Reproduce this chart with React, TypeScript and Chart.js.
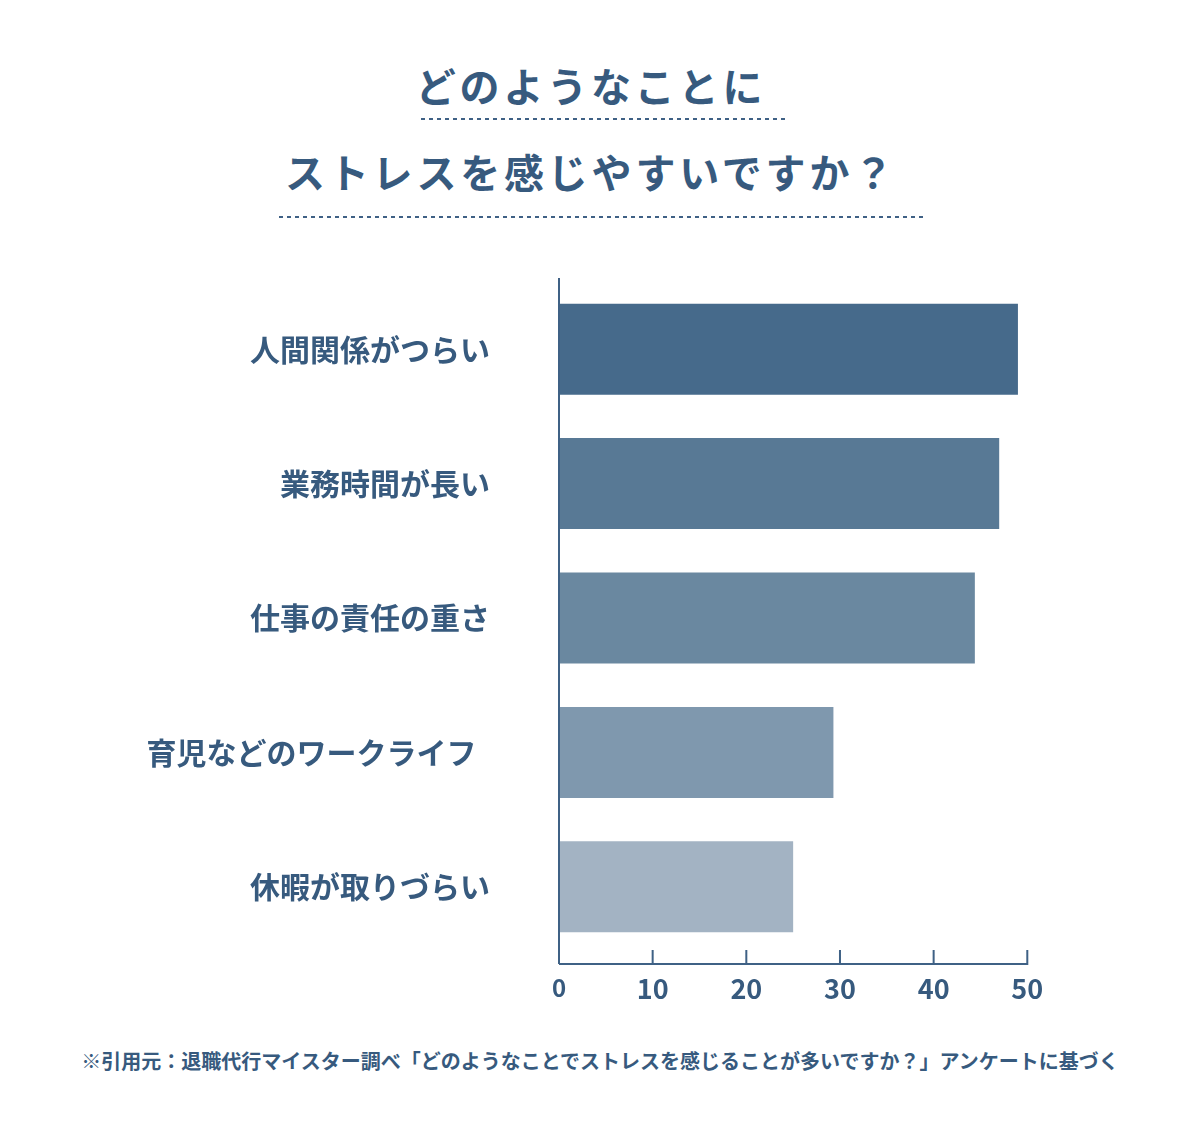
import React, { useEffect, useRef } from "react";
import { Chart, registerables } from "chart.js";

Chart.register(...registerables);

const categories = [
  "人間関係がつらい",
  "業務時間が長い",
  "仕事の責任の重さ",
  "育児などのワークライフ  ",
  "休暇が取りづらい",
];
const values = [49.0, 47.0, 44.4, 29.3, 25.0];
const barColors = ["#466a8b", "#587995", "#6a88a0", "#7f98ae", "#a3b3c3"];
const xTickValues = [0, 10, 20, 30, 40, 50];
const titleLine1 = "どのようなことに";
const titleLine2 = "ストレスを感じやすいですか？";
const footnote =
  "※引用元：退職代行マイスター調べ「どのようなことでストレスを感じることが多いですか？」アンケートに基づく";

const TEXT = "#375a7e";
const AXIS = "#3f6185";
const FONT = "'Noto Sans CJK JP', 'Noto Sans', sans-serif";

const axisPlugin = {
  id: "customAxis",
  afterDraw(chart: any) {
    const { ctx, chartArea, scales } = chart;
    const xs = scales.x;
    const x0 = xs.getPixelForValue(0);
    const x1 = xs.getPixelForValue(50);
    const yAxis = chartArea.bottom + 10;
    ctx.save();
    ctx.strokeStyle = AXIS;
    ctx.lineWidth = 2;
    ctx.beginPath();
    ctx.moveTo(x0, chartArea.top - 4);
    ctx.lineTo(x0, yAxis);
    ctx.moveTo(x0, yAxis);
    ctx.lineTo(x1 + 1, yAxis);
    xs.ticks.forEach((t: any) => {
      const px = xs.getPixelForValue(t.value);
      ctx.moveTo(px, yAxis);
      ctx.lineTo(px, yAxis - 14);
    });
    ctx.stroke();
    ctx.restore();
  },
};

function BarChart() {
  const ref = useRef<HTMLCanvasElement>(null);
  useEffect(() => {
    if (!ref.current) return;
    const chart = new Chart(ref.current, {
      type: "bar",
      data: {
        labels: categories,
        datasets: [
          {
            data: values,
            backgroundColor: barColors,
            borderWidth: 0,
            barPercentage: 1,
            categoryPercentage: 0.677,
          },
        ],
      },
      options: {
        indexAxis: "y",
        animation: false,
        responsive: true,
        maintainAspectRatio: false,
        layout: { padding: { left: 0, right: 164.7, top: 32, bottom: 0 } },
        plugins: {
          legend: { display: false },
          tooltip: { enabled: false },
          title: { display: false },
        },
        scales: {
          x: {
            type: "linear",
            min: 0,
            max: 50,
            afterBuildTicks: (s: any) => {
              s.ticks = xTickValues.map((v) => ({ value: v }));
            },
            afterFit: (s: any) => {
              s.height = 76;
              s.paddingLeft = 0;
              s.paddingRight = 0;
            },
            grid: { display: false, drawTicks: false },
            border: { display: false },
            ticks: {
              padding: 19,
              color: TEXT,
              font: (c: any) => ({
                family: FONT,
                size: c.tick && c.tick.value === 0 ? 24 : 27,
                weight: "bold",
              }),
            },
          },
          y: {
            afterFit: (s: any) => {
              s.width = 551;
              s.paddingTop = 0;
              s.paddingBottom = 0;
            },
            grid: { display: false, drawTicks: false },
            border: { display: false },
            ticks: {
              padding: 69,
              color: TEXT,
              font: { family: FONT, size: 30, weight: "bold" },
            },
          },
        },
      },
      plugins: [axisPlugin],
    });
    return () => chart.destroy();
  }, []);
  return (
    <div style={{ position: "absolute", left: 0, top: 242, width: 1184, height: 780 }}>
      <canvas ref={ref} />
    </div>
  );
}

const dotted = (left: number, top: number, width: number) => (
  <div
    style={{
      position: "absolute",
      left,
      top,
      width,
      height: 2,
      backgroundImage: `repeating-linear-gradient(to right, ${AXIS} 0 4px, transparent 4px 8px)`,
    }}
  />
);

export default function App() {
  const titleStyle: React.CSSProperties = {
    position: "absolute",
    left: 0,
    width: 1184,
    textAlign: "center",
    fontFamily: FONT,
    fontWeight: 700,
    fontSize: 40,
    lineHeight: "42px",
    letterSpacing: "3.8px",
    paddingRight: 18,
    boxSizing: "border-box",
    color: TEXT,
    whiteSpace: "nowrap",
  };
  return (
    <div style={{ position: "relative", width: 1184, height: 1130, background: "#fff" }}>
      <div style={{ ...titleStyle, top: 56 }}>{titleLine1}</div>
      {dotted(413, 110, 364)}
      <div style={{ ...titleStyle, top: 142 }}>{titleLine2}</div>
      {dotted(271, 208, 644)}
      <BarChart />
      <div
        style={{
          position: "absolute",
          left: 0,
          top: 1043,
          width: 1184,
          textAlign: "center",
          fontFamily: FONT,
          fontWeight: 700,
          fontSize: 20,
          lineHeight: "20px",
          color: TEXT,
          whiteSpace: "nowrap",
        }}
      >
        {footnote}
      </div>
    </div>
  );
}
